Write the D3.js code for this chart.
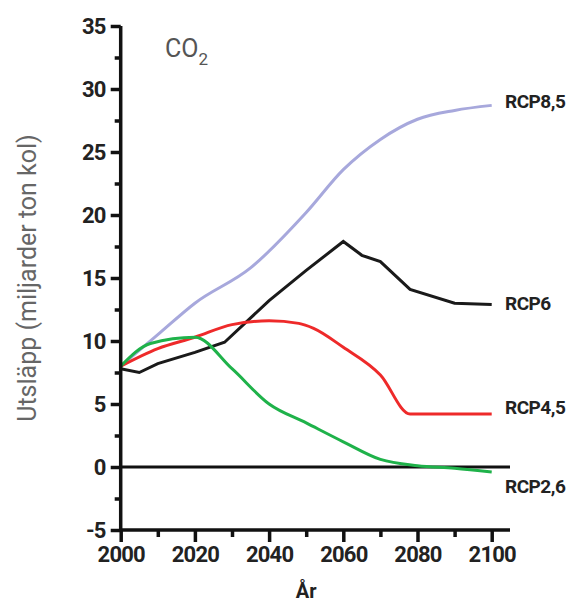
<!DOCTYPE html><html><head><meta charset="utf-8"><script src="https://cdn.jsdelivr.net/npm/d3@7"></script>
<style>body{margin:0;background:#fff}text{font-family:"Roboto",sans-serif}</style></head><body><svg id="c" width="585" height="605"></svg>
<script>
const rcp85=[[2000,8],[2010,10.5],[2020,13],[2035,15.8],[2050,20.2],[2060,23.6],[2070,26],[2080,27.6],[2090,28.3],[2100,28.7]];
const rcp6=[[2000,7.8],[2005,7.5],[2010,8.2],[2020,9.1],[2028,9.9],[2040,13.2],[2050,15.6],[2060,17.9],[2065,16.8],[2070,16.3],[2078,14.1],[2090,13],[2100,12.9]];
const rcp45=[[2000,8],[2010,9.4],[2020,10.3],[2030,11.3],[2040,11.6],[2048,11.4],[2052,11.0],[2060,9.5],[2070,7.3],[2078,4.2],[2100,4.2]];
const rcp26=[[2000,8],[2008,9.8],[2020,10.3],[2030,7.8],[2040,5],[2050,3.5],[2060,2],[2070,0.6],[2080,0.1],[2090,-0.1],[2100,-0.4]];
const series=[{d:rcp85,c:"#a7a8dc",k:d3.curveMonotoneX},{d:rcp6,c:"#1a1a1a",k:d3.curveLinear},{d:rcp45,c:"#ee2a2a",k:d3.curveMonotoneX},{d:rcp26,c:"#1fb24a",k:d3.curveMonotoneX}];
const labels=[{l:"RCP8,5",v:29},{l:"RCP6",v:13},{l:"RCP4,5",v:4.7},{l:"RCP2,6",v:-1.5}];
const svg=d3.select("#c");
const x=d3.scaleLinear([2000,2100],[120.7,491.7]);
const y=d3.scaleLinear([-5,35],[530,26]);
const g=svg.append("g");
g.append("line").attr("x1",x(2000)).attr("x2",510).attr("y1",y(0)).attr("y2",y(0)).attr("stroke","#111").attr("stroke-width",3);
series.forEach(s=>g.append("path").attr("d",d3.line().x(d=>x(d[0])).y(d=>y(d[1])).curve(s.k)(s.d)).attr("fill","none").attr("stroke",s.c).attr("stroke-width",3));
svg.append("g").attr("transform",`translate(${x(2000)},0)`).call(d3.axisLeft(y).tickValues(d3.range(-5,35.1,5)).tickSize(10).tickPadding(5).tickFormat(d=>String(d)));
svg.append("g").attr("transform",`translate(${x(2000)},0)`).call(d3.axisLeft(y).tickValues(d3.range(-2.5,35,5)).tickSize(6).tickFormat(""));
svg.append("line").attr("x1",x(2000)).attr("x2",x(2000)).attr("y1",y(35)).attr("y2",y(-5)+2).attr("stroke","#111").attr("stroke-width",3.5);
svg.append("g").attr("transform",`translate(0,${y(-5)})`).call(d3.axisBottom(x).tickValues(d3.range(2000,2101,20)).tickSize(12).tickPadding(4).tickFormat(d3.format("d")));
svg.append("g").attr("transform",`translate(0,${y(-5)})`).call(d3.axisBottom(x).tickValues(d3.range(2010,2100,20)).tickSize(7).tickFormat(""));
svg.append("line").attr("x1",x(2000)-1).attr("x2",510).attr("y1",y(-5)).attr("y2",y(-5)).attr("stroke","#111").attr("stroke-width",3.5);
svg.selectAll(".domain").remove();
svg.selectAll(".tick line").attr("stroke","#111").attr("stroke-width",3.5);
svg.selectAll(".tick text").attr("font-size",22).attr("font-weight","bold").attr("fill","#222").attr("letter-spacing","-0.8");
labels.forEach(l=>svg.append("text").attr("x",505).attr("y",y(l.v)).attr("dy","0.35em").attr("font-size",19).attr("font-weight","bold").attr("letter-spacing","-0.5").attr("fill","#222").text(l.l));
svg.append("text").attr("x",x(2050)).attr("y",598).attr("text-anchor","middle").attr("font-size",20).attr("font-weight","bold").attr("fill","#222").text("År");
svg.append("text").attr("transform",`translate(36,${y(15)}) rotate(-90)`).attr("text-anchor","middle").attr("font-size",25).attr("fill","#666").text("Utsläpp (miljarder ton kol)");
const co=svg.append("text").attr("x",165).attr("y",57).attr("font-size",25).attr("fill","#555");
co.append("tspan").text("CO");co.append("tspan").attr("dy",8).attr("font-size",17).text("2");
</script></body></html>
